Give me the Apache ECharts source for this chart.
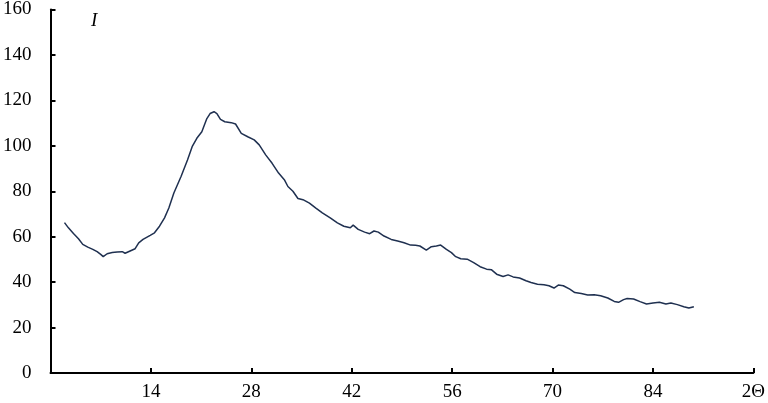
<!DOCTYPE html>
<html>
<head>
<meta charset="utf-8">
<script src="https://cdn.jsdelivr.net/npm/echarts@6/dist/echarts.min.js"></script>
<style>
  html, body { margin: 0; padding: 0; background: #fff; }
  #chart { width: 768px; height: 403px; }
</style>
</head>
<body>
<div id="chart"></div>
<script>
// 2Θ 角度（横轴）
const angle = [
  1.95, 2.5, 3.2, 3.9, 4.5, 5.2, 5.9, 6.5, 7.0, 7.35, 7.9, 8.6, 9.3, 10.0, 10.4, 11.1, 11.8,
  12.3, 12.9, 13.9, 14.5, 15.2, 15.9, 16.5, 17.2, 18.2, 19.1, 19.75, 20.4, 21.1, 21.8, 22.25,
  22.8, 23.2, 23.7, 24.3, 25.2, 25.8, 26.6, 27.5, 28.4, 29.1, 30.0, 30.9, 31.8, 32.6, 33.1,
  33.8, 34.5, 35.2, 36.1, 37.0, 37.9, 39.0, 40.0, 40.9, 41.8, 42.2, 42.9, 43.8, 44.5, 45.1,
  45.7, 46.5, 47.5, 48.4, 49.3, 50.2, 50.9, 51.5, 52.4, 53.1, 53.8, 54.4, 55.2, 55.9, 56.5,
  57.2, 58.1, 59.0, 59.9, 60.8, 61.5, 62.2, 63.1, 63.8, 64.5, 65.4, 66.3, 67.0, 67.9, 68.8,
  69.5, 70.2, 70.8, 71.5, 72.4, 73.1, 74.0, 74.9, 75.8, 76.7, 77.7, 78.6, 79.2, 79.9, 80.4,
  81.3, 82.2, 83.1, 84.0, 84.9, 85.8, 86.5, 87.4, 88.3, 89.0, 89.7
];
// 强度 I（纵轴）
const intensity = [
  66.2, 63.9, 61.4, 59.1, 56.6, 55.4, 54.4, 53.4, 52.2, 51.2, 52.5, 53.0, 53.3, 53.4, 52.7, 53.7, 54.7,
  57.3, 58.8, 60.6, 61.7, 64.6, 68.3, 72.6, 79.2, 86.5, 93.8, 99.6, 103.3, 106.2, 112.0, 114.2,
  115.0, 114.2, 111.6, 110.6, 110.2, 109.6, 105.5, 104.0, 102.6, 100.4, 96.0, 92.3, 88.0, 85.1, 82.1,
  80.0, 76.8, 76.3, 74.8, 72.6, 70.5, 68.3, 66.1, 64.6, 63.9, 65.1, 63.2, 62.0, 61.3, 62.5,
  62.0, 60.3, 58.8, 58.1, 57.3, 56.3, 56.2, 55.9, 54.1, 55.6, 55.9, 56.3, 54.4, 53.0, 51.2,
  50.3, 50.1, 48.6, 46.8, 45.7, 45.4, 43.5, 42.5, 43.2, 42.3, 41.8, 40.6, 39.8, 39.1, 38.8,
  38.4, 37.4, 38.7, 38.4, 36.9, 35.4, 35.0, 34.3, 34.4, 34.0, 33.0, 31.5, 31.1, 32.3, 32.8,
  32.6, 31.4, 30.4, 30.8, 31.1, 30.4, 30.8, 30.1, 29.2, 28.6, 29.2
];
const xTicks = [14, 28, 42, 56, 70, 84];

const chart = echarts.init(document.getElementById('chart'));
const font = '"Liberation Serif", "Times New Roman", serif';

chart.setOption({
  animation: false,
  title: {
    text: 'I',
    left: 86,
    top: 6,
    textStyle: { fontFamily: font, fontStyle: 'italic', fontWeight: 'normal', fontSize: 19, color: '#000' }
  },
  grid: { left: 47, right: 2, top: 7, bottom: 30 },
  xAxis: {
    type: 'value',
    min: 0,
    max: 98,
    interval: 14,
    axisLine: { lineStyle: { color: '#000', width: 2 } },
    axisTick: { inside: true, length: 5, lineStyle: { color: '#000', width: 2 } },
    splitLine: { show: false },
    axisLabel: {
      margin: 10,
      fontFamily: font,
      fontSize: 19,
      color: '#000',
      showMinLabel: true,
      showMaxLabel: true,
      formatter: function (v) {
        if (v === 98) return '2Θ';
        return xTicks.indexOf(v) >= 0 ? String(v) : '';
      }
    }
  },
  yAxis: {
    type: 'value',
    min: 0,
    max: 160,
    interval: 20,
    axisLine: { show: true, lineStyle: { color: '#000', width: 2 } },
    axisTick: { show: true, inside: true, length: 5, lineStyle: { color: '#000', width: 2 } },
    splitLine: { show: false },
    axisLabel: { margin: 19, fontFamily: font, fontSize: 19, color: '#000' }
  },
  series: [{
    type: 'line',
    data: angle.map((a, i) => [a, intensity[i]]),
    showSymbol: false,
    lineStyle: { color: '#1f3050', width: 1.5 }
  }]
});
</script>
</body>
</html>
